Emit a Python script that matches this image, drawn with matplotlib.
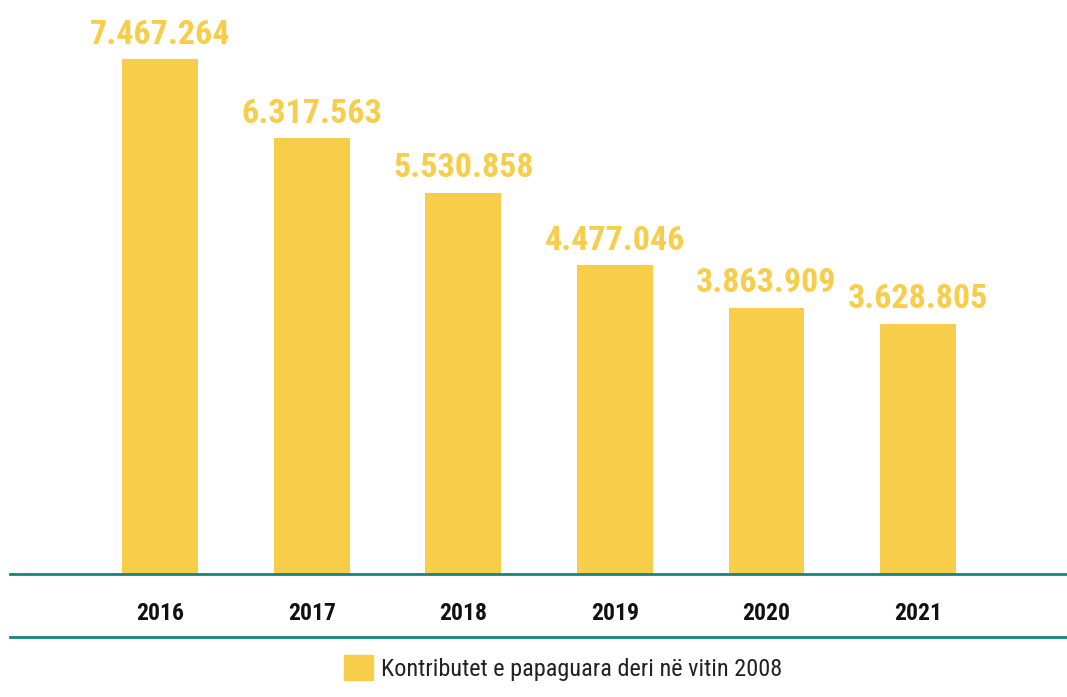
import matplotlib
matplotlib.use("Agg")
import matplotlib.pyplot as plt
from matplotlib.lines import Line2D
from matplotlib.patches import Patch

# data
years = ["2016", "2017", "2018", "2019", "2020", "2021"]
values = [7467264, 6317563, 5530858, 4477046, 3863909, 3628805]
series_name = "Kontributet e papaguara deri në vitin 2008"

yellow = "#F7CD4A"
teal = "#14857F"
font = ["Roboto Condensed", "Roboto", "DejaVu Sans"]

W, H = 1067, 697
fig = plt.figure(figsize=(W / 100, H / 100), dpi=100)
ax = fig.add_axes([10 / W, (H - 574) / H, 1 - 10 / W, 574 / H])

x = list(range(len(years)))
ax.bar(x, values, width=0.5, color=yellow, zorder=2)

for xi, v in zip(x, values):
    label = f"{v:,}".replace(",", ".")
    ax.annotate(label, (xi, v), xytext=(0, 11), textcoords="offset points",
                ha="center", va="baseline", color=yellow, fontsize=24.5,
                fontweight="bold", family=font)

ax.set_xlim(-150 / 151.6, (W - 160) / 151.6)
ax.set_ylim(0, 7467264 * 574 / 515)

ax.set_xticks(x)
ax.set_xticklabels(years, fontsize=17, fontweight="bold", family=font, color="#111111")
ax.tick_params(axis="x", length=0, pad=20)
ax.set_yticks([])
for s in ["top", "right", "left"]:
    ax.spines[s].set_visible(False)
ax.spines["bottom"].set_color(teal)
ax.spines["bottom"].set_linewidth(2)

# lower rule under the year labels
fig.add_artist(Line2D([10 / W, 1], [(H - 637) / H] * 2, color=teal, lw=2,
                      transform=fig.transFigure))

leg = fig.legend(handles=[Patch(color=yellow, label=series_name)],
                 loc="center", bbox_to_anchor=(563 / W, (H - 668) / H),
                 frameon=False, handlelength=1.2, handleheight=1.2,
                 handletextpad=0.3, prop={"family": font, "size": 17.5})
for t in leg.get_texts():
    t.set_color("#222222")

fig.savefig("out.png", dpi=100)
